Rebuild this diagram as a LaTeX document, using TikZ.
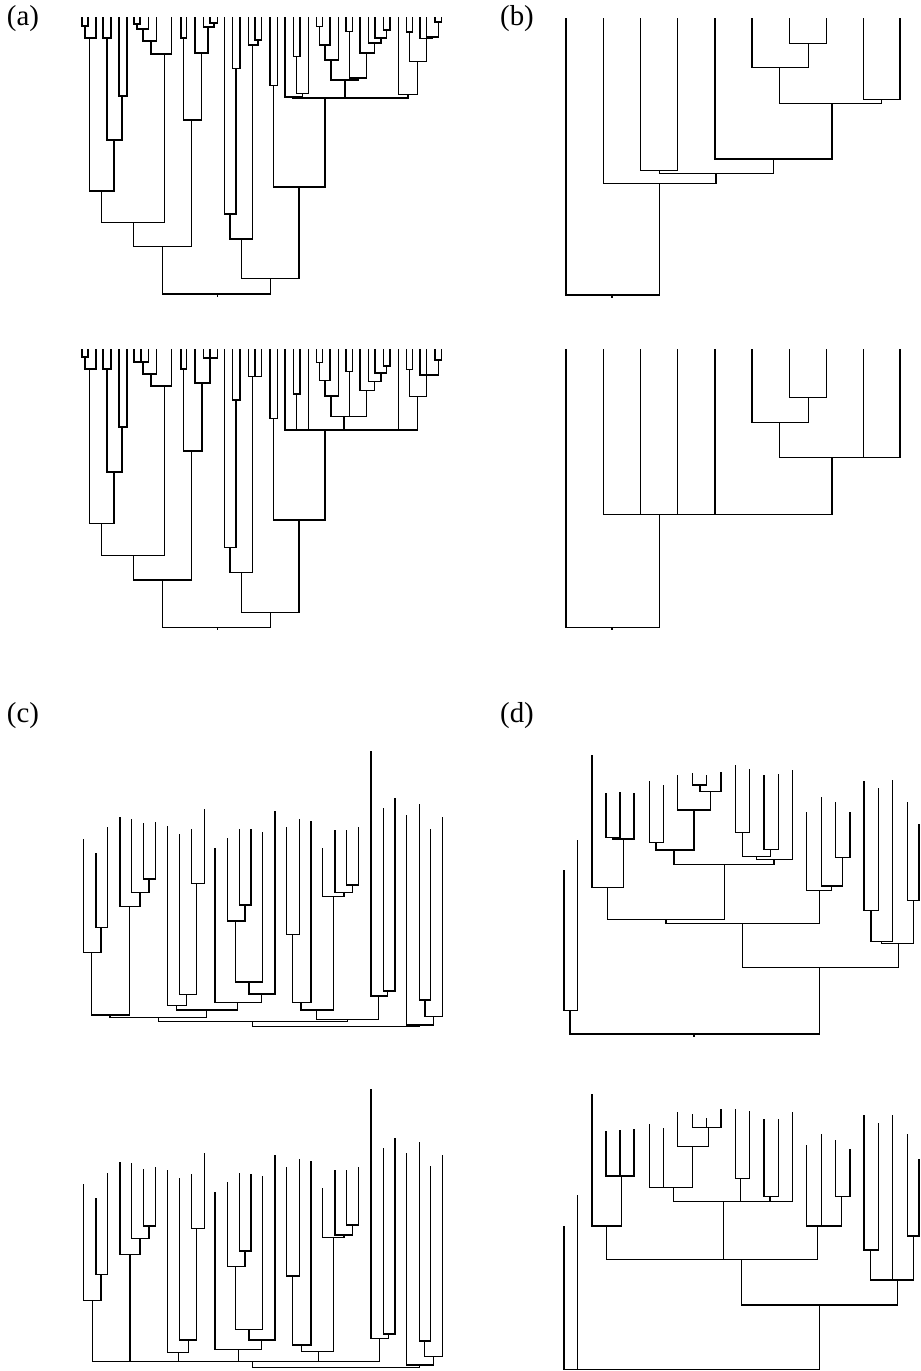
\documentclass[tikz,border=0pt]{standalone}
\usepackage{fontspec}
\setmainfont{Liberation Serif}
\tikzset{
  dg/.style={line width=1.4bp, line cap=rect, black},
  lbl/.style={font=\fontsize{29}{33}\selectfont, inner sep=0pt}
}
% binary join: child (x1,t1) and child (x2,t2) merged at height h
\newcommand\JJ[5]{\draw[dg] (#2,#3) |- (#4,#1) -- (#4,#5);}
% multi-way join at height h spanning xa..xb, children given as x/top
\newcommand\JM[4]{\draw[dg] (#2,#1) -- (#3,#1);
  \foreach \p/\q in {#4} {\draw[dg] (\p,\q) -- (\p,#1);}}
\begin{document}
\begin{tikzpicture}[x=1bp,y=-1bp]
\useasboundingbox (0,0) rectangle (920,1371);
\fill[white] (0,0) rectangle (920,1371);

% labels
\node[lbl] (la) at (23,19) {(a)};
\node[lbl] (lb) at (517,19) {(b)};
\node[lbl] (lc) at (23,716) {(c)};
\node[lbl] (ld) at (517,716) {(d)};

% ---------------- (a) upper tree ----------------
\JJ{26}{82}{18}{88}{18}
\JJ{38}{85}{26}{96}{18}
\JJ{38}{103}{18}{111}{18}
\JJ{96}{119}{18}{127}{18}
\JJ{140}{107}{38}{122}{96}
\JJ{191}{89.5}{38}{114}{140}
\JJ{24}{134}{18}{140}{18}
\JJ{29}{137}{24}{148.3}{18}
\JJ{41}{143}{29}{156.7}{18}
\JJ{54}{151}{41}{171.7}{18}
\JJ{222.7}{101.7}{191}{164.3}{54}
\JJ{38}{181}{18}{186.7}{18}
\JJ{23}{210}{18}{217.7}{18}
\JJ{27}{203.3}{18}{213.8}{23}
\JJ{53}{195}{18}{208}{27}
\JJ{120}{183.3}{38}{201.7}{53}
\JJ{246.7}{133.3}{222.7}{191.7}{120}
\JJ{68.3}{232.3}{18}{240}{18}
\JJ{214}{224.3}{18}{236}{68.3}
\JJ{40}{255}{18}{261.7}{18}
\JJ{45}{248.3}{18}{258}{40}
\JJ{239}{230}{214}{252.7}{45}
\JJ{85.7}{270}{18}{277.3}{18}
\JJ{56.7}{293.3}{18}{300}{18}
\JJ{93.3}{296.7}{56.7}{308.3}{18}
\JJ{97}{285}{18}{302.5}{93.3}
\JJ{26.7}{316.7}{18}{322.7}{18}
\JJ{45}{319.7}{26.7}{330}{18}
\JJ{60}{325}{45}{338.3}{18}
\JJ{31.7}{346}{18}{352.7}{18}
\JJ{30}{383.3}{18}{390}{18}
\JJ{38}{375}{18}{386.7}{30}
\JJ{43}{368.3}{18}{380.8}{38}
\JJ{53}{360}{18}{374.5}{43}
\JJ{78}{349.3}{31.7}{366.7}{53}
\JJ{80}{331}{60}{358}{78}
\JJ{32}{406.7}{18}{412.7}{18}
\JJ{22}{435}{18}{441.7}{18}
\JJ{37}{426.7}{18}{438.3}{22}
\JJ{38.5}{420}{18}{432.5}{37}
\JJ{61.7}{409.7}{32}{426.7}{38.5}
\JJ{94.3}{398.3}{18}{417.3}{61.7}
\JM{98}{293}{408}{293/97, 344.8/80, 408/94.3}
\JJ{187}{273.7}{85.7}{325}{98}
\JJ{278.3}{241.7}{239}{299}{187}
\JJ{294}{162.3}{246.7}{270.3}{278.3}
\draw[dg] (217.7,294) -- (217.7,296);

% ---------------- (a) lower tree ----------------
\begin{scope}[shift={(0,332)}]
\JJ{25}{82}{18}{88}{18}
\JJ{37}{85}{25}{96}{18}
\JJ{37}{103}{18}{111}{18}
\JJ{95}{119}{18}{127}{18}
\JJ{140}{107}{37}{122}{95}
\JJ{191.3}{89.5}{37}{114}{140}
\JM{30}{134}{148.3}{134/18, 141/18, 148.3/18}
\JJ{42}{143}{30}{156.7}{18}
\JJ{54}{151}{42}{171.7}{18}
\JJ{223.7}{101.7}{191.3}{164.3}{54}
\JJ{37}{181}{18}{186.7}{18}
\JM{26}{203.3}{217.7}{203.3/18, 210/18, 217.7/18}
\JJ{51}{195}{18}{210}{26}
\JJ{119}{183.3}{37}{202}{51}
\JJ{248}{133.3}{223.7}{191.7}{119}
\JJ{68}{232.3}{18}{240}{18}
\JJ{215.7}{224.3}{18}{236}{68}
\JM{44.7}{248.3}{261.7}{248.3/18, 255/18, 261.7/18}
\JJ{240.3}{230}{215.7}{252.7}{44.7}
\JJ{86.3}{270}{18}{277.3}{18}
\JJ{62}{293.3}{18}{300}{18}
\JJ{30.7}{316.7}{18}{322.7}{18}
\JJ{48.7}{319.7}{30.7}{330}{18}
\JJ{64}{325}{48.7}{338.3}{18}
\JJ{39.7}{346}{18}{352.7}{18}
\JJ{34}{383.3}{18}{390}{18}
\JJ{41}{375}{18}{386.7}{34}
\JJ{49.7}{368.3}{18}{380.8}{41}
\JJ{58.7}{360}{18}{374.5}{49.7}
\JM{84.7}{331}{366.7}{331/64, 349.3/39.7, 366.7/58.7}
\JJ{37.3}{406.7}{18}{412.7}{18}
\JJ{28}{435}{18}{441.7}{18}
\JM{43}{420}{438.3}{420/18, 426.7/18, 438.3/28}
\JJ{64.7}{409.7}{37.3}{426.7}{43}
\JM{98}{285}{417.3}{285/18, 296.7/62, 308.3/18, 344/84.7, 398.3/18, 417.3/64.7}
\JJ{188}{273.7}{86.3}{325}{98}
\JJ{280.3}{241.7}{240.3}{299}{188}
\JJ{295.3}{162.3}{248}{270.3}{280.3}
\draw[dg] (217.7,295.3) -- (217.7,297);
\end{scope}

% ---------------- (b) upper tree ----------------
\JJ{43.3}{789.3}{19}{826.7}{19}
\JJ{67.7}{752}{19}{808.3}{43.3}
\JJ{99.3}{863.3}{19}{900}{19}
\JJ{103.3}{779.3}{67.7}{881.7}{99.3}
\JJ{159}{715}{19}{832}{103.3}
\JJ{170.7}{640.7}{19}{677.7}{19}
\JJ{173.3}{659.3}{170.7}{773.3}{159}
\JJ{183.3}{603.3}{19}{716}{173.3}
\JJ{295}{566}{19}{659.3}{183.3}
\draw[dg] (612,295) -- (612,297);

% ---------------- (b) lower tree ----------------
\JJ{397.7}{789.3}{350}{826.7}{350}
\JJ{422.3}{752}{350}{808.3}{397.7}
\JM{457.7}{779.3}{900}{779.3/422.3, 863.3/350, 900/350}
\JM{514.3}{603.3}{832}{603.3/350, 640.7/350, 677.7/350, 715/350, 832/457.7}
\JJ{627.3}{566}{350}{659.3}{514.3}
\draw[dg] (612,627.3) -- (612,629);

% ---------------- (c) upper tree ----------------
\JJ{927.3}{96}{853.3}{107.7}{827.3}
\JJ{952.7}{83.3}{840}{101}{927.3}
\JJ{879}{143.3}{824}{155.7}{822.7}
\JJ{892.3}{131.7}{819.3}{149}{879}
\JJ{906.7}{120}{817.3}{140}{892.3}
\JJ{1015}{91.7}{952.7}{129.3}{906.7}
\JJ{883.3}{191.7}{829.3}{204.3}{809.3}
\JJ{994.3}{179.3}{834.3}{196.7}{883.3}
\JJ{1005.7}{167.3}{826.7}{186.7}{994.3}
\JJ{905}{239.3}{829.3}{251}{830}
\JJ{921}{227.3}{838.3}{245}{905}
\JJ{982}{235.7}{921}{262.7}{832.7}
\JJ{994}{249}{982}{275}{811.7}
\JJ{1002.3}{215}{848.3}{261.7}{994}
\JJ{1010}{176.7}{1005.7}{237.7}{1002.3}
\JJ{1017.3}{110}{1015}{206.7}{1010}
\JJ{934.3}{286.7}{827.3}{299.3}{820}
\JJ{1002.3}{292.7}{934.3}{311}{821.7}
\JJ{885}{346.7}{830.7}{358.7}{827.3}
\JJ{892.7}{335}{830.7}{352.7}{885}
\JJ{896.7}{322.7}{848.3}{344}{892.7}
\JJ{1010}{301}{1002.3}{333.3}{896.7}
\JJ{991}{383.3}{808.3}{395}{798.3}
\JJ{996}{371}{752}{387.3}{991}
\JJ{1019.7}{316.7}{1010}{378.3}{996}
\JJ{1021.7}{158.3}{1017.3}{347.3}{1019.7}
\JJ{1000}{419.3}{805}{430.7}{829.3}
\JJ{1016.7}{425}{1000}{442.3}{817.3}
\JJ{1025}{406.7}{816}{433.3}{1016.7}
\JJ{1026.7}{252.7}{1021.7}{419.3}{1025}

% ---------------- (c) lower tree ----------------
\JJ{1274.3}{96}{1198.3}{107.7}{1173.3}
\JJ{1300.7}{83.3}{1185}{101}{1274.3}
\JJ{1226}{143.3}{1169.3}{155.7}{1167.7}
\JJ{1238.3}{131.7}{1164}{149}{1226}
\JJ{1254.3}{120}{1162.7}{140}{1238.3}
\JJ{1228.3}{191.7}{1175}{204.3}{1153.3}
\JJ{1340}{179.3}{1178.3}{196.7}{1228.3}
\JJ{1352.7}{167.3}{1171}{188.3}{1340}
\JJ{1251}{239.3}{1173.3}{251}{1174.3}
\JJ{1266.7}{227.3}{1182.7}{245}{1251}
\JJ{1329.3}{235.7}{1266.7}{262.7}{1176.7}
\JJ{1340}{249}{1329.3}{275}{1156}
\JJ{1349.3}{215}{1192.7}{261.7}{1340}
\JJ{1276}{286.7}{1167.3}{299.3}{1160}
\JJ{1345}{292.7}{1276}{311}{1161.7}
\JJ{1225}{346.7}{1170.7}{358.7}{1167.3}
\JJ{1235}{335}{1170.7}{352.7}{1225}
\JJ{1237.7}{322.7}{1188.3}{344}{1235}
\JJ{1351.7}{301.7}{1345}{333.3}{1237.7}
\JJ{1334}{383.3}{1148.3}{395}{1138.3}
\JJ{1338.3}{371}{1090}{388.3}{1334}
\JM{1361.7}{92.7}{379.3}{92.7/1300.7, 130/1254.3, 178.3/1352.7, 238.3/1349.3, 318.3/1351.7, 379.3/1338.3}
\JJ{1341}{419.3}{1142.7}{430.7}{1166.7}
\JJ{1356.7}{424.7}{1341}{442.3}{1156}
\JJ{1365}{406.7}{1153.3}{433.3}{1356.7}
\JJ{1367.5}{252.7}{1361.7}{419.3}{1365}

% ---------------- (d) upper tree ----------------
\JJ{1010.7}{564}{871}{577.3}{840.7}
\JJ{837.3}{606}{793.3}{620}{792.3}
\JJ{839}{613}{837.3}{634}{794}
\JJ{887.7}{592}{756}{623.3}{839}
\JJ{842.7}{649.3}{781.7}{663.3}{786}
\JJ{785}{692.7}{773.3}{706.7}{776}
\JJ{791.7}{700}{785}{721}{772.7}
\JJ{810}{677.7}{776}{710.7}{791.7}
\JJ{850}{656}{842.7}{694}{810}
\JJ{832.7}{735.7}{766}{749.3}{770}
\JJ{849.3}{764}{776}{778.3}{775}
\JJ{856.7}{742.7}{832.7}{770.7}{849.3}
\JJ{859.3}{756.7}{856.7}{792.3}{771}
\JJ{864.3}{674}{850}{774}{859.3}
\JJ{919.3}{607.3}{887.7}{724.3}{864.3}
\JJ{857.3}{835.7}{802.3}{850}{812.3}
\JJ{886}{821.7}{797.7}{842.7}{857.3}
\JJ{890.7}{806.7}{812.3}{831.7}{886}
\JJ{923.3}{666}{919.3}{819.3}{890.7}
\JJ{910.7}{864}{781.7}{878.3}{788.3}
\JJ{941.7}{871}{910.7}{892.7}{780.7}
\JJ{900.7}{907.7}{802.7}{919}{825}
\JJ{943.3}{881.7}{941.7}{913.3}{900.7}
\JJ{967.3}{742.3}{923.3}{898.3}{943.3}
\JJ{1034}{570}{1010.7}{819.3}{967.3}
\draw[dg] (694,1034) -- (694,1036);

% ---------------- (d) lower tree ----------------
\JM{1176}{606}{634}{606/1131.7, 620/1130.7, 634/1130}
\JJ{1226}{592}{1095}{621.7}{1176}
\JM{1127.3}{692.7}{721}{692.7/1115, 706.7/1118.3, 721/1109.3}
\JJ{1146.7}{677.7}{1112.7}{708.3}{1127.3}
\JM{1187.3}{649.3}{692.7}{649.3/1125, 663.3/1128.3, 692.7/1146.7}
\JJ{1178.3}{735.7}{1110}{749.3}{1112}
\JJ{1196.7}{764}{1120}{778.3}{1119.3}
\JM{1201.7}{673.3}{792.3}{673.3/1187.3, 740.7/1178.3, 770/1196.7, 792.3/1112.7}
\JJ{1196.7}{835.7}{1140.7}{850}{1150}
\JM{1226}{806.7}{841.7}{806.7/1146, 821.7/1135, 841.7/1196.7}
\JM{1259.3}{606.7}{817.7}{606.7/1226, 723.3/1201.7, 817.7/1226}
\JJ{1250}{864}{1116}{878.3}{1124}
\JJ{1236}{907.7}{1135}{919}{1160}
\JM{1280}{870.7}{913.3}{870.7/1250, 892.7/1116, 913.3/1236}
\JJ{1305}{741.7}{1259.3}{897.7}{1280}
\JM{1369.3}{564}{819.3}{564/1226.7, 577.3/1196, 819.3/1305}
\end{tikzpicture}
\end{document}
